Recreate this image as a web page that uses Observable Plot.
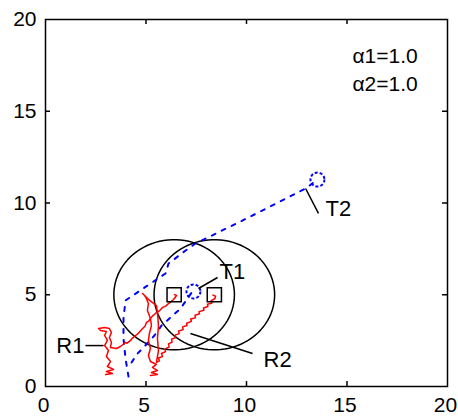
<!DOCTYPE html>
<html><head><meta charset="utf-8">
<script src="https://cdn.jsdelivr.net/npm/d3@7"></script>
<script src="https://cdn.jsdelivr.net/npm/@observablehq/plot@0.6"></script>
<style>html,body{margin:0;padding:0;background:#fff;} svg{display:block}</style>
</head><body><div id="chart"></div>
<script>
// ---- tick labels ----
const xTicks = [0, 5, 10, 15, 20];
const yTicks = [0, 5, 10, 15, 20];

// ---- robots (final positions, squares) and sensing range circles ----
const robotNames = ["R1", "R2"];
const squareX = [6.4, 8.4];
const squareY = [5.0, 5.0];
const rangeRadius = [3, 3];

// ---- targets (blue circles) ----
const targetNames = ["T1", "T2"];
const targetX = [7.36, 13.53];
const targetY = [5.18, 11.28];

// ---- target trajectories (blue dashed) ----
const t1PathX = [4.28, 4.58, 4.88, 5.42, 5.77, 6.22, 6.72, 7.31];
const t1PathY = [1.31, 1.80, 2.13, 2.78, 3.32, 3.76, 4.25, 5.18];
const t2PathX = [4.13, 3.98, 3.88, 3.88, 3.98, 5.97, 6.12, 6.97, 7.46, 9.70, 12.94, 13.53];
const t2PathY = [0.54, 1.53, 2.62, 3.71, 4.69, 6.16, 6.70, 7.41, 7.79, 8.99, 10.79, 11.28];

// ---- robot trajectories (red) ----
const r1PathX = [2.99, 3.33, 3.03, 3.38, 3.08, 3.23, 3.03, 3.13, 2.94, 3.08, 2.94, 3.03, 2.74, 2.64, 2.94, 3.18, 3.28, 3.18, 3.28, 3.23, 3.53, 3.73, 3.98, 4.06, 4.23, 4.33, 4.48, 4.62, 4.83, 4.95, 5.02, 5.12, 5.22, 5.36, 5.47, 5.66, 5.82, 5.98, 6.12, 6.26, 6.37, 6.52, 6.42];
const r1PathY = [0.65, 0.71, 0.82, 0.93, 1.09, 1.36, 1.63, 1.96, 2.23, 2.51, 2.78, 3.00, 3.05, 3.16, 3.22, 3.16, 2.94, 2.67, 2.40, 2.13, 2.07, 2.18, 2.40, 2.36, 2.51, 2.64, 2.78, 2.90, 3.16, 3.28, 3.49, 3.55, 3.71, 3.88, 3.98, 4.12, 4.31, 4.38, 4.52, 4.64, 4.74, 4.96, 5.01];
const r2PathX = [5.22, 5.57, 5.27, 5.57, 5.32, 5.52, 5.22, 5.12, 5.22, 5.12, 5.17, 5.27, 5.22, 5.07, 5.12, 5.02, 4.93, 4.83, 4.98, 5.12,
  5.52, 5.57, 5.62, 5.57, 5.62, 5.52,
  5.67, 5.62, 5.82, 5.77, 5.97, 5.95, 6.15, 6.12, 6.30, 6.27, 6.47, 6.45, 6.65, 6.62, 6.85, 6.82, 7.04, 7.02, 7.26, 7.22, 7.46, 7.44, 7.66, 7.64, 7.88, 7.86, 8.08, 8.06, 8.28, 8.24, 8.42, 8.46, 8.33];
const r2PathY = [0.60, 0.65, 0.76, 0.87, 1.04, 1.20, 1.36, 1.69, 2.07, 2.51, 2.89, 3.32, 3.71, 4.14, 4.52, 4.80, 4.96, 5.07, 4.90, 4.75,
  4.41, 4.03, 3.32, 2.62, 1.96, 1.31,
  1.40, 1.55, 1.63, 1.80, 1.90, 2.05, 2.15, 2.32, 2.42, 2.58, 2.66, 2.80, 2.88, 3.02, 3.10, 3.25, 3.32, 3.45, 3.55, 3.68, 3.74, 3.88, 3.96, 4.08, 4.16, 4.28, 4.36, 4.48, 4.55, 4.68, 4.78, 4.92, 4.98];

// ---- labels and leader lines ----
const labelNames = ["R1", "R2", "T1", "T2"];
const labelX = [1.94, 10.85, 8.66, 13.93];
const labelY = [2.23, 1.47, 6.26, 9.67];
const leaderX1 = [1.99, 7.21, 7.61, 12.94];
const leaderY1 = [2.23, 2.89, 5.34, 10.79];
const leaderX2 = [2.89, 10.30, 8.56, 13.58];
const leaderY2 = [2.23, 1.80, 5.94, 9.43];

const paramText = ["α1=1.0", "α2=1.0"];
const paramX = [15.27, 15.27];
const paramY = [17.98, 16.46];

// ---- build tables ----
const toPts = (xs, ys) => xs.map((x, i) => ({x, y: ys[i]}));
const circlePts = [];
squareX.forEach((cx, k) => {
  for (let a = 0; a <= 360; a += 4) {
    const t = a * Math.PI / 180;
    circlePts.push({k, x: cx + rangeRadius[k] * Math.cos(t), y: squareY[k] + rangeRadius[k] * Math.sin(t)});
  }
});
const leaders = leaderX1.map((x, i) => ({x1: x, y1: leaderY1[i], x2: leaderX2[i], y2: leaderY2[i]}));
const labels = labelNames.map((t, i) => ({t, x: labelX[i], y: labelY[i]}));
const inner = xTicks.slice(1, -1);

const chart = Plot.plot({
  width: 458, height: 417,
  marginLeft: 45, marginRight: 11, marginTop: 19, marginBottom: 31,
  style: {fontFamily: "'Liberation Sans', Arial, sans-serif", fontSize: "21px", background: "#fff", color: "#000"},
  x: {domain: [0, 20]},
  y: {domain: [0, 20]},
  marks: [
    Plot.axisX({ticks: xTicks, tickSize: 0, tickPadding: 11, label: null, fontSize: 21, dx: -2}),
    Plot.axisY({ticks: yTicks, tickSize: 0, tickPadding: 9, label: null, fontSize: 21}),
    Plot.ruleX(inner, {y1: 0, y2: 0.27, stroke: "black", strokeWidth: 1.5}),
    Plot.ruleX(inner, {y1: 20, y2: 19.73, stroke: "black", strokeWidth: 1.5}),
    Plot.ruleY(inner, {x1: 0, x2: 0.25, stroke: "black", strokeWidth: 1.5}),
    Plot.ruleY(inner, {x1: 20, x2: 19.75, stroke: "black", strokeWidth: 1.5}),
    Plot.line(circlePts, {x: "x", y: "y", z: "k", stroke: "black", strokeWidth: 1.5}),
    Plot.line(toPts(t2PathX, t2PathY), {x: "x", y: "y", stroke: "#0000ff", strokeWidth: 2, strokeDasharray: "4,7"}),
    Plot.line(toPts(t1PathX, t1PathY), {x: "x", y: "y", stroke: "#0000ff", strokeWidth: 2, strokeDasharray: "4,7"}),
    Plot.line(toPts(r1PathX, r1PathY), {x: "x", y: "y", stroke: "#ff0000", strokeWidth: 1.5, curve: "linear"}),
    Plot.line(toPts(r2PathX, r2PathY), {x: "x", y: "y", stroke: "#ff0000", strokeWidth: 1.5, curve: "linear"}),
    Plot.dot(squareX.map((x, i) => ({x, y: squareY[i]})), {x: "x", y: "y", symbol: "square", r: 8, stroke: "black", strokeWidth: 1.5, fill: "none"}),
    Plot.dot(targetX.map((x, i) => ({x, y: targetY[i]})), {x: "x", y: "y", r: 7, stroke: "#0000ff", strokeWidth: 2, strokeDasharray: "3,2", fill: "none"}),
    Plot.link(leaders, {x1: "x1", y1: "y1", x2: "x2", y2: "y2", stroke: "black", strokeWidth: 1.5}),
    Plot.text(labels.slice(0, 1), {x: "x", y: "y", text: "t", textAnchor: "end", fontSize: 22, fill: "black"}),
    Plot.text(labels.slice(1), {x: "x", y: "y", text: "t", textAnchor: "start", fontSize: 22, fill: "black"}),
    Plot.text(paramText.map((t, i) => ({t, x: paramX[i], y: paramY[i]})), {x: "x", y: "y", text: "t", textAnchor: "start", fontSize: 21, fill: "black"}),
    Plot.frame({stroke: "black", strokeWidth: 1.5})
  ]
});
document.getElementById("chart").appendChild(chart);
</script>
</body></html>
